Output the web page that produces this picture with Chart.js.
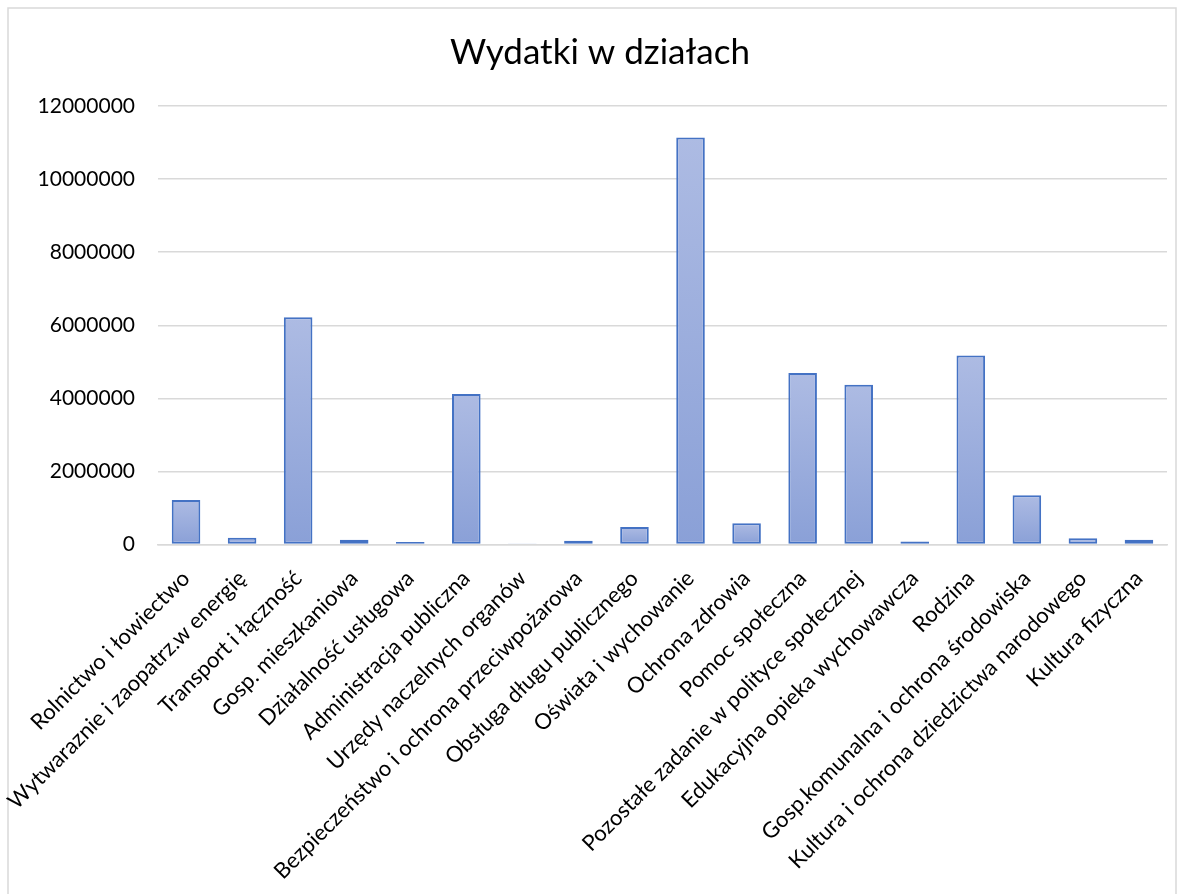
<!DOCTYPE html>
<html>
<head>
<meta charset="utf-8">
<script src="https://cdn.jsdelivr.net/npm/chart.js@4"></script>
<style>
  html, body { margin: 0; padding: 0; background: #fff; }
  #wrap { width: 1184px; height: 894px; position: relative; }
</style>
</head>
<body>
<div id="wrap"><canvas id="wydatkiChart"></canvas></div>
<script>
// Categories (działy) and spending values
const categories = [
  "Rolnictwo i łowiectwo",
  "Wytwaraznie i zaopatrz.w energię",
  "Transport i łączność",
  "Gosp. mieszkaniowa",
  "Działalność usługowa",
  "Administracja publiczna",
  "Urzędy naczelnych organów",
  "Bezpieczeństwo i ochrona przeciwpożarowa",
  "Obsługa długu publicznego",
  "Oświata i wychowanie",
  "Ochrona zdrowia",
  "Pomoc społeczna",
  "Pozostałe zadanie w polityce społecznej",
  "Edukacyjna opieka wychowawcza",
  "Rodzina",
  "Gosp.komunalna i ochrona środowiska",
  "Kultura i ochrona dziedzictwa narodowego",
  "Kultura fizyczna"
];
const wydatki = [
  1216000, 185000, 6220000, 130000, 70000, 4120000, 30000, 100000, 480000,
  11140000, 580000, 4690000, 4370000, 80000, 5170000, 1350000, 170000, 130000
];
const yTicks = [0, 2000000, 4000000, 6000000, 8000000, 10000000, 12000000];

const FONT = "Lato, 'Noto Sans', sans-serif";
const GRID = "#d9d9d9";

// gradient per bar: lighter on top, darker at the base
const barFill = (context) => {
  const chart = context.chart;
  const yScale = chart.scales.y;
  if (!yScale || context.parsed === undefined) return "#9aaedc";
  const top = yScale.getPixelForValue(context.parsed.y);
  const base = yScale.getPixelForValue(0);
  if (!isFinite(top) || base - top < 1) return "#a3b3de";
  const g = chart.ctx.createLinearGradient(0, top, 0, base);
  g.addColorStop(0, "#adbbe3");
  g.addColorStop(1, "#8aa0d7");
  return g;
};

// thin grey frame round the chart (its bottom edge lies below the picture)
const framePlugin = {
  id: "frame",
  beforeDraw(chart) {
    const { ctx, width, height } = chart;
    ctx.save();
    ctx.fillStyle = "#ffffff";
    ctx.fillRect(0, 0, width, height);
    ctx.strokeStyle = GRID;
    ctx.lineWidth = 1.5;
    ctx.strokeRect(8, 8, width - 16, height + 20);
    ctx.restore();
  }
};

const ctx = document.getElementById("wydatkiChart").getContext("2d");

new Chart(ctx, {
  type: "bar",
  data: {
    labels: categories,
    datasets: [
      {
        label: "Wydatki",
        data: wydatki,
        backgroundColor: barFill,
        borderColor: "#4472c4",
        borderWidth: 2,
        borderSkipped: false,
        barPercentage: 0.51,
        categoryPercentage: 1.0
      }
    ]
  },
  options: {
    responsive: true,
    maintainAspectRatio: false,
    animation: false,
    devicePixelRatio: 1,
    layout: { padding: { top: 8, left: 33, right: 17, bottom: 8 } },
    plugins: {
      legend: { display: false },
      tooltip: { enabled: false },
      title: {
        display: true,
        text: "Wydatki w działach",
        color: "#000000",
        font: { family: FONT, size: 35, weight: "normal" },
        padding: { top: 24, bottom: 32 }
      }
    },
    scales: {
      x: {
        grid: { display: false },
        border: { display: true, color: GRID, width: 1.5 },
        ticks: {
          color: "#000000",
          font: { family: FONT, size: 22 },
          minRotation: 45,
          maxRotation: 45,
          autoSkip: false,
          padding: 13,
          labelOffset: 0
        },
        afterFit: (scale) => { scale.height = 341.5; }
      },
      y: {
        min: 0,
        max: 12000000,
        afterBuildTicks: (scale) => { scale.ticks = yTicks.map((v) => ({ value: v })); },
        grid: { color: GRID, lineWidth: 1.5, drawTicks: false },
        border: { display: false },
        ticks: {
          color: "#000000",
          font: { family: FONT, size: 21 },
          padding: 23,
          callback: (v) => String(v)
        },
        afterFit: (scale) => { scale.width = 125; }
      }
    }
  },
  plugins: [framePlugin]
});
</script>
</body>
</html>
